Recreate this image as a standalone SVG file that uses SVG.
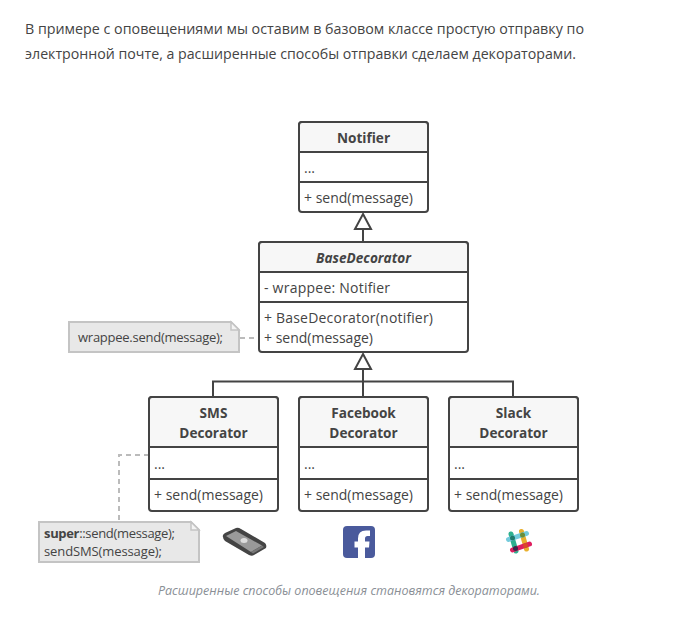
<svg xmlns="http://www.w3.org/2000/svg" width="697" height="635" viewBox="0 0 697 635">
<style>
text{font-family:"Open Sans","Noto Sans",sans-serif;fill:#444;font-size:14px}
.body{font-family:"Open Sans",sans-serif;font-size:15px;fill:#444}
.box{fill:#fff;stroke:#444;stroke-width:2}
.head{fill:#f7f7f7;stroke:#444;stroke-width:2}
.sep{stroke:#444;stroke-width:2;fill:none}
.t{font-weight:700;text-anchor:middle;font-size:13.6px}
.line{stroke:#444;stroke-width:2;fill:none}
.dash{stroke:#bbb;stroke-width:2;stroke-dasharray:5 4;fill:none}
.tri{fill:#fff;stroke:#444;stroke-width:2}
.note{fill:#e8e8e8;stroke:#c4c4c4;stroke-width:2}
.fold{fill:#f4f4f4;stroke:#c4c4c4;stroke-width:1.5}
.n{font-size:13px}
.cap{font-size:12.5px;font-style:italic;fill:#8a8f96;text-anchor:middle}
</style>
<rect width="697" height="635" fill="#fff"/>
<text class="body" x="25" y="34" textLength="559" lengthAdjust="spacingAndGlyphs">В примере с оповещениями мы оставим в базовом классе простую отправку по</text>
<text class="body" x="25" y="59" textLength="551" lengthAdjust="spacingAndGlyphs">электронной почте, а расширенные способы отправки сделаем декораторами.</text>
<g id="connectors">
<path class="line" d="M363 229V242"/>
<path class="line" d="M363 370V397M213 397V381.500H513V397"/>
<polygon class="tri" points="363,214 371,229 355,229"/>
<polygon class="tri" points="363,354 371,369 355,369"/>
<path class="dash" d="M240 338H259"/>
<path class="dash" d="M149 455H119V521"/>
</g>
<g id="notifier">
<rect class="box" x="299" y="122" width="129" height="90" rx="3"/>
<path class="head" d="M299 152V125a3 3 0 0 1 3-3H425a3 3 0 0 1 3 3V152Z"/>
<path class="sep" d="M299 182H428"/>
<text class="t" x="363.500" y="143">Notifier</text>
<text x="304" y="173">...</text>
<text x="304" y="203">+ send(message)</text>
</g>
<g id="base-decorator">
<rect class="box" x="259" y="242" width="209" height="110" rx="3"/>
<path class="head" d="M259 272V245a3 3 0 0 1 3-3H465a3 3 0 0 1 3 3V272Z"/>
<path class="sep" d="M259 302H468"/>
<text class="t" x="363.500" y="263" font-style="italic">BaseDecorator</text>
<text x="264" y="293" textLength="126">- wrappee: Notifier</text>
<text x="264" y="323" textLength="169">+ BaseDecorator(notifier)</text>
<text x="264" y="343">+ send(message)</text>
</g>
<g id="sms-decorator">
<rect class="box" x="149" y="397" width="129" height="114" rx="3"/>
<path class="head" d="M149 447V400a3 3 0 0 1 3-3H275a3 3 0 0 1 3 3V447Z"/>
<path class="sep" d="M149 479H278"/>
<text class="t" x="213.500" y="418">SMS</text>
<text class="t" x="213.500" y="438">Decorator</text>
<text x="154" y="469">...</text>
<text x="154" y="500">+ send(message)</text>
</g>
<g id="facebook-decorator">
<rect class="box" x="299" y="397" width="129" height="114" rx="3"/>
<path class="head" d="M299 447V400a3 3 0 0 1 3-3H425a3 3 0 0 1 3 3V447Z"/>
<path class="sep" d="M299 479H428"/>
<text class="t" x="363.500" y="418">Facebook</text>
<text class="t" x="363.500" y="438">Decorator</text>
<text x="304" y="469">...</text>
<text x="304" y="500">+ send(message)</text>
</g>
<g id="slack-decorator">
<rect class="box" x="449" y="397" width="129" height="114" rx="3"/>
<path class="head" d="M449 447V400a3 3 0 0 1 3-3H575a3 3 0 0 1 3 3V447Z"/>
<path class="sep" d="M449 479H578"/>
<text class="t" x="513.500" y="418">Slack</text>
<text class="t" x="513.500" y="438">Decorator</text>
<text x="454" y="469">...</text>
<text x="454" y="500">+ send(message)</text>
</g>
<g id="note-wrappee">
<path class="note" d="M69 322H231L239 330V352H69Z"/>
<path class="fold" d="M231 322V330H239Z"/>
<text class="n" x="78" y="342" textLength="145">wrappee.send(message);</text>
</g>
<g id="note-super">
<path class="note" d="M39 522H191L199 530V562H39Z"/>
<path class="fold" d="M191 522V530H199Z"/>
<text class="n" x="44" y="538" textLength="131"><tspan font-weight="700">super</tspan>::send(message);</text>
<text class="n" x="44" y="556" textLength="118">sendSMS(message);</text>
</g>
<g id="icon-phone">
<path d="M223 537Q222 535 225 533L236 528Q238 527 241 529L265 543Q267 545 266 548L254 555Q252 556.500 249 555L225 541Q223 539 223 537Z" fill="#444"/>
<path d="M226 536L236 531L262 545.500L251 552Z" fill="#9a9a9a"/>
<path d="M251 552L262 545.500L264 547L253 553.500Z" fill="#777"/>
<ellipse cx="244" cy="540.500" rx="3.500" ry="2.500" fill="#ddd"/>
</g>
<g id="icon-facebook">
<rect x="343" y="526" width="32" height="32" rx="4" fill="#4a5a9c"/>
<path d="M365 558V547.500H369L369.500 541.500H365V538.500Q365 536 367.500 536H370V530.500H366Q358 530.500 358 538.500V541.500H354.500V547.500H358V558Z" fill="#fff"/>
</g>
<g id="icon-slack" fill="none" stroke-width="5" stroke-linecap="round">
<path d="M511 534L516 551" stroke="#2eb08f"/>
<path d="M521.500 531.500L526.500 549" stroke="#e9b02e"/>
<path d="M508.500 539.500L526.500 533.500" stroke="#74cbdc"/>
<path d="M512.500 550L529.500 544" stroke="#df1f5f"/>
<circle cx="512.500" cy="538" r="2.500" fill="#1f7a6b"/>
<circle cx="522.500" cy="535" r="2.500" fill="#6b8f3a"/>
<circle cx="515.500" cy="548.500" r="2.500" fill="#3a2a4a"/>
<circle cx="525.500" cy="545.500" r="2.500" fill="#d9482a"/>
</g>
<text class="cap" x="349" y="595">Расширенные способы оповещения становятся декораторами.</text>
</svg>
